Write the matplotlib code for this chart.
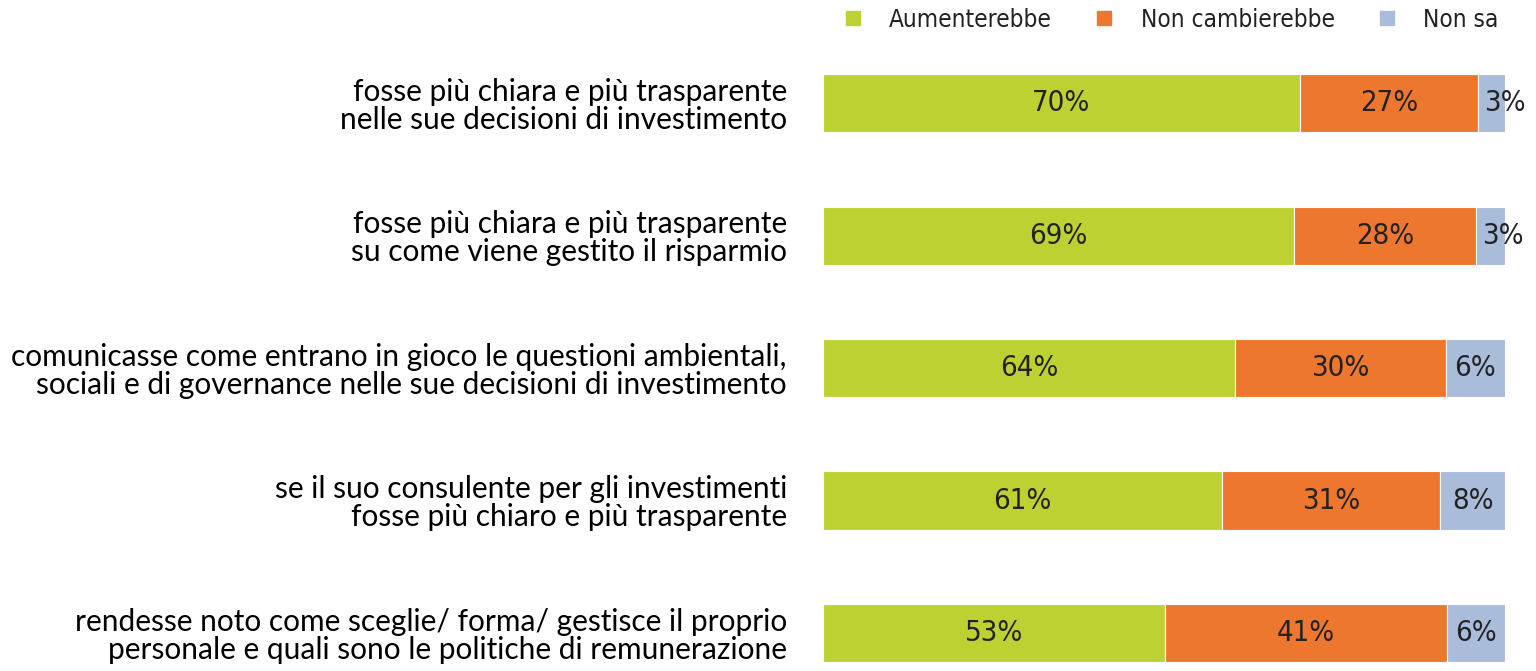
import numpy as np
import matplotlib.pyplot as plt
from matplotlib.lines import Line2D

categories = [
    'fosse più chiara e più trasparente\nnelle sue decisioni di investimento',
    'fosse più chiara e più trasparente\nsu come viene gestito il risparmio',
    'comunicasse come entrano in gioco le questioni ambientali,\nsociali e di governance nelle sue decisioni di investimento',
    'se il suo consulente per gli investimenti\nfosse più chiaro e più trasparente',
    'rendesse noto come sceglie/ forma/ gestisce il proprio\npersonale e quali sono le politiche di remunerazione',
]
series = ['Aumenterebbe', 'Non cambierebbe', 'Non sa']
# printed percentages
aumenterebbe = [70, 69, 64, 61, 53]
non_cambierebbe = [27, 28, 30, 31, 41]
non_sa = [3, 3, 6, 8, 6]
# bar lengths as drawn in the source chart
bar_aum = [69.9, 69.1, 60.4, 58.5, 50.1]
bar_non_camb = [26.1, 26.6, 30.9, 32.0, 41.4]
bar_non_sa = [4.0, 4.3, 8.7, 9.5, 8.5]

colors = ['#BDD232', '#EE7730', '#A9BCDA']
val_font = dict(family='DejaVu Sans', stretch='condensed')
lab_font = ['Lato', 'DejaVu Sans']

fig = plt.figure(figsize=(15.36, 6.71), dpi=100)
ax = fig.add_axes([823 / 1536, 0, 682 / 1536, 1 - 37 / 671])

y = np.arange(len(categories))
left = np.zeros(len(categories))
for widths, labels, c in zip([bar_aum, bar_non_camb, bar_non_sa],
                             [aumenterebbe, non_cambierebbe, non_sa], colors):
    widths = np.array(widths)
    ax.barh(y, widths, left=left, height=0.44, color=c, edgecolor='white', linewidth=0.8)
    for yi, l, w, v in zip(y, left, widths, labels):
        if w < 5:
            ax.text(l + 0.9, yi, f'{v}%', ha='left', va='center',
                    fontsize=21, color='#222222', **val_font)
        else:
            ax.text(l + w / 2, yi, f'{v}%', ha='center', va='center',
                    fontsize=21, color='#222222', **val_font)
    left += widths

ax.set_xlim(0, 100)
ax.set_ylim(4 + 38 / 132.5, -0.5)
ax.set_yticks(y)
ax.set_yticklabels(categories, fontsize=21.5, family=lab_font, linespacing=1.0)
ax.tick_params(axis='y', length=0, pad=26)
ax.set_xticks([])
for s in ax.spines.values():
    s.set_visible(False)

handles = [Line2D([], [], marker='s', linestyle='none', markersize=10, color=c) for c in colors]
leg = fig.legend(handles, series, loc='center right', bbox_to_anchor=(1511 / 1536, 1 - 20 / 671),
                 ncol=3, frameon=False, handlelength=2.0, handletextpad=0.5, columnspacing=1.15,
                 borderpad=0, prop=dict(size=17.5, **val_font))
for t in leg.get_texts():
    t.set_color('#222222')

fig.savefig('out.png', dpi=100)
